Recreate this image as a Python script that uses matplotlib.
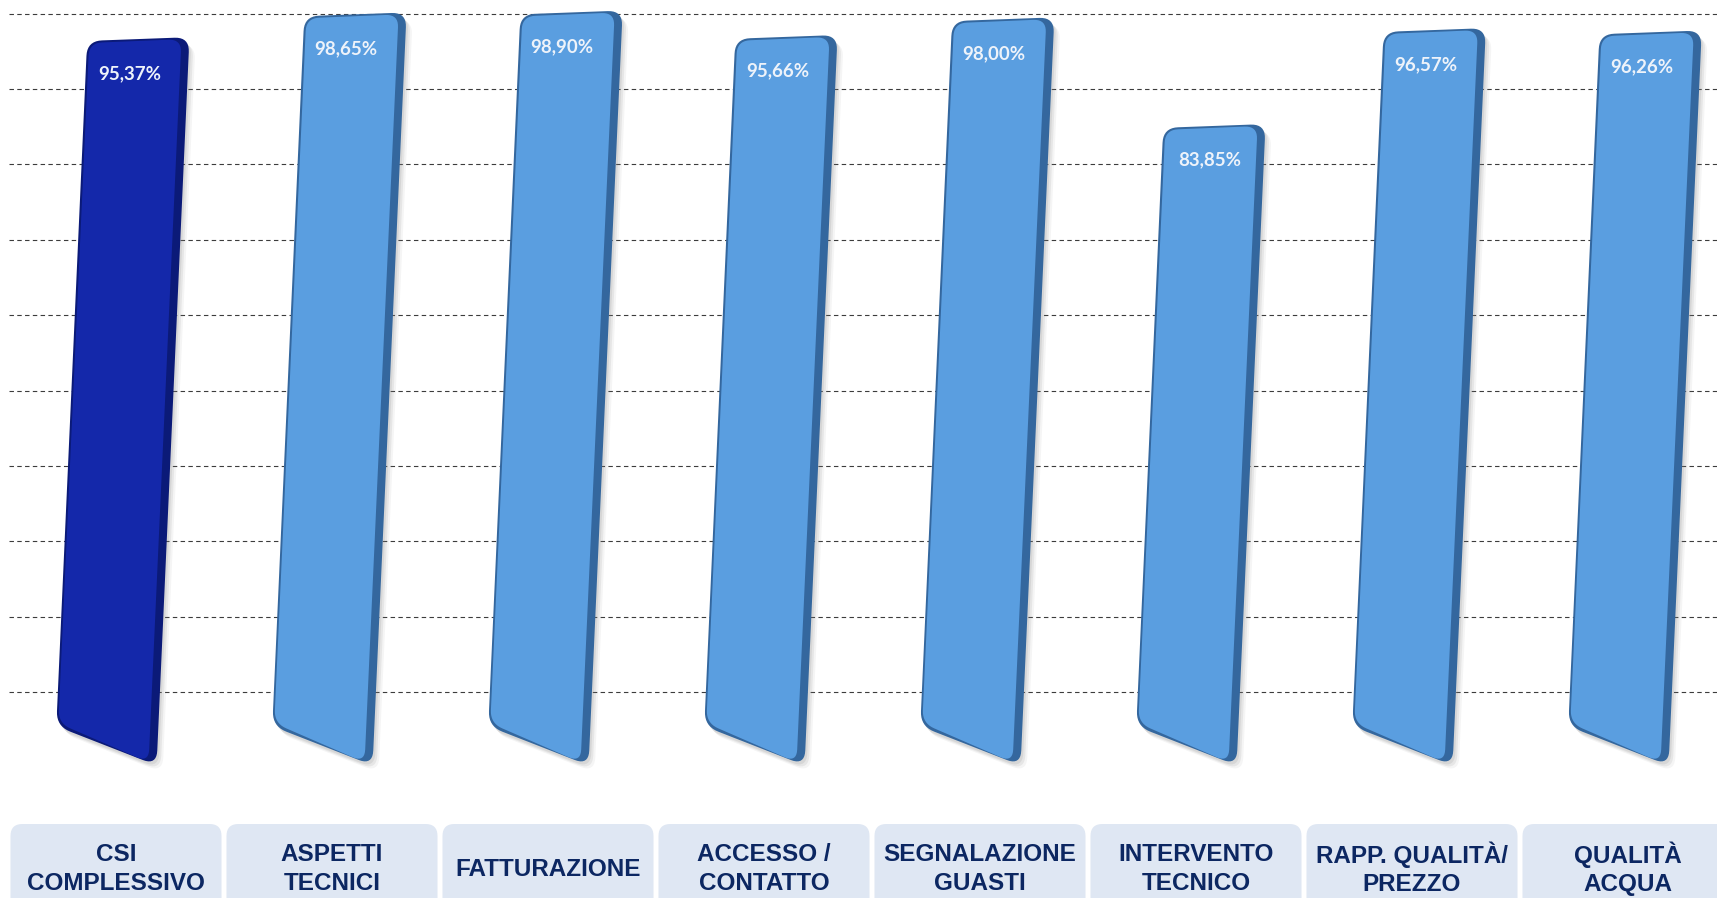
import numpy as np
import matplotlib
matplotlib.use('Agg')
import matplotlib.pyplot as plt
from matplotlib.patches import Polygon

# data
categories = ['CSI\nCOMPLESSIVO', 'ASPETTI\nTECNICI', 'FATTURAZIONE', 'ACCESSO /\nCONTATTO',
              'SEGNALAZIONE\nGUASTI', 'INTERVENTO\nTECNICO', 'RAPP. QUALITÀ/\nPREZZO', 'QUALITÀ\nACQUA']
values = [95.37, 98.65, 98.90, 95.66, 98.00, 83.85, 96.57, 96.26]
value_labels = ['{:.2f}%'.format(v).replace('.', ',') for v in values]
grid_levels = list(range(10, 101, 10))

dark = ('#0b1a78', '#1428aa')    # edge, face of the total bar
light = ('#34679e', '#5a9ee0')   # edge, face of the other bars

W, H = 1717, 898
fig = plt.figure(figsize=(W / 100, H / 100), dpi=100)
fig.patch.set_facecolor('white')

ax = fig.add_axes([9 / W, 70 / H, (W - 9) / W, 828 / H])
ax.set_xlim(-107 / 216, 1601 / 216)
ax.set_ylim(-8.0, 101.8)
ax.axis('off')

for g in grid_levels:
    ax.axhline(g, color='#3c3c3c', lw=0.8, ls=(0, (4, 3)), zorder=1)


def rounded(pts, r, n=10):
    """polygon with rounded corners (points in pixels)"""
    out = []
    m = len(pts)
    for j in range(m):
        p = np.asarray(pts[j], float)
        a = np.asarray(pts[j - 1], float)
        b = np.asarray(pts[(j + 1) % m], float)
        ua = (a - p) / np.linalg.norm(a - p)
        ub = (b - p) / np.linalg.norm(b - p)
        p0, p2 = p + ua * r, p + ub * r
        for t in np.linspace(0, 1, n):
            out.append((1 - t) ** 2 * p0 + 2 * (1 - t) * t * p + t ** 2 * p2)
    return np.array(out)


to_px = ax.transData.transform
to_data = ax.transData.inverted().transform
k = 0.00157   # perspective skew

for i, (v, lab) in enumerate(zip(values, value_labels)):
    edge, face = dark if i == 0 else light
    corners = [(i - 0.285 + k * (v + 1.0), v + 1.0),
               (i + 0.188 + k * (v + 1.5), v + 1.5),
               (i + 0.188, 0.3),
               (i - 0.285 + k * 5.5, 5.5)]
    px = to_px(corners)
    outer = rounded(px, 15)
    for off, al in [((6, -7), 0.08), ((4, -5), 0.12), ((2, -3), 0.15)]:
        ax.add_patch(Polygon(to_data(outer + np.array(off)), closed=True,
                             fc='#808080', ec='none', alpha=al, zorder=2))
    ax.add_patch(Polygon(to_data(outer), closed=True, fc=edge, ec='none', zorder=3))
    inner = px + np.array([[2, -2], [-8, -2], [-8, 3], [2, 3]])
    ax.add_patch(Polygon(to_data(rounded(inner, 13)), closed=True, fc=face, ec='none', zorder=4))
    ax.text(i + 0.065, v - 3.3, lab, ha='center', va='center', fontsize=13.5,
            fontweight='bold', family='Lato', color='#eef3fa', zorder=5)

# category boxes
axl = fig.add_axes([9 / W, 0, (W - 9) / W, 74 / H])
axl.set_xlim(-107 / 216, 1601 / 216)
axl.set_ylim(0, 74)
axl.axis('off')
for i, name in enumerate(categories):
    cx = axl.transData.transform([(i, 0)])[0][0]
    fy = axl.transData.transform([(0, 0)])[0][1]
    box = [(cx - 105.5, fy + 74), (cx + 105.5, fy + 74), (cx + 105.5, fy - 30), (cx - 105.5, fy - 30)]
    poly = axl.transData.inverted().transform(rounded(box, 12))
    axl.add_patch(Polygon(poly, closed=True, fc='#dfe7f3', ec='none', clip_on=False))
    axl.text(i, 29, name, ha='center', va='center', fontsize=17.5, fontweight='bold',
             family='Liberation Sans', color='#0c2762', linespacing=1.3)

fig.savefig('out.png', dpi=100)
